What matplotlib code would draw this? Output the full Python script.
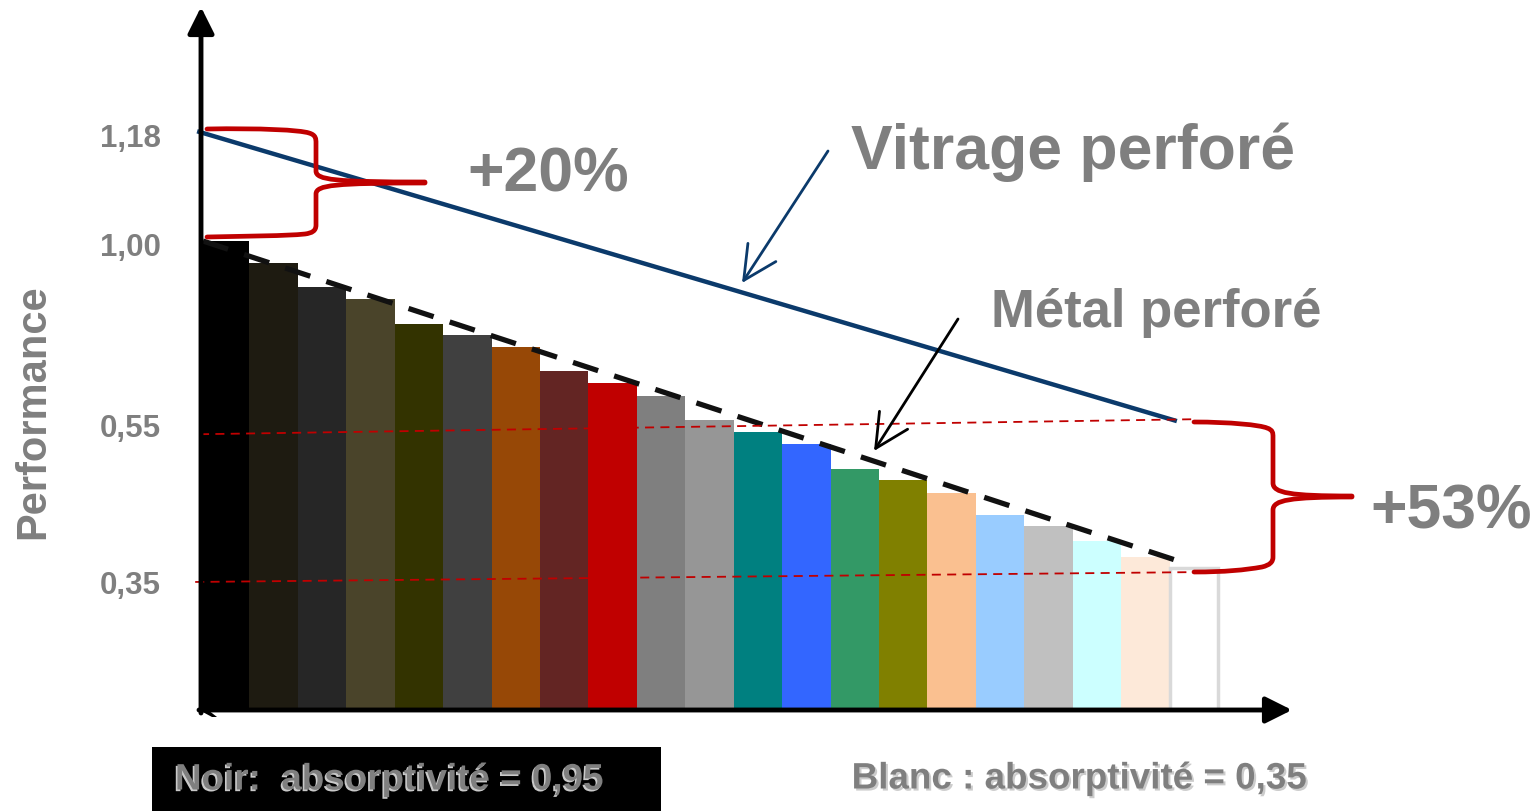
import matplotlib
matplotlib.use("Agg")
import matplotlib.pyplot as plt
from matplotlib.path import Path
from matplotlib.patches import PathPatch, Rectangle, Polygon
import matplotlib.patheffects as pe

plt.rcParams['font.family'] = ['Liberation Sans', 'DejaVu Sans']

# ---------------- data ----------------
categories = ['Noir', 'Brun foncé', 'Anthracite', 'Bronze', 'Olive foncé', 'Gris foncé',
              'Brun', 'Bordeaux', 'Rouge', 'Gris', 'Gris moyen', 'Sarcelle', 'Bleu',
              'Vert', 'Olive', 'Pêche', 'Bleu ciel', 'Argent', 'Cyan clair', 'Crème', 'Blanc']
performance = [1.000, 0.953, 0.901, 0.876, 0.824, 0.800, 0.774, 0.723, 0.697, 0.669,
               0.618, 0.593, 0.567, 0.514, 0.490, 0.463, 0.416, 0.392, 0.360, 0.326, 0.303]
bar_colors = ['#000000', '#1e1b11', '#262626', '#4a442a', '#333300', '#404040',
              '#974806', '#632523', '#c00000', '#7f7f7f', '#969696', '#008080',
              '#3366ff', '#339966', '#808000', '#fac090', '#99ccff', '#c0c0c0',
              '#ccffff', '#fde9d9', '#ffffff']

ytick_pos = [1.228, 0.994, 0.608, 0.273]
ytick_labels = ['1,18', '1,00', '0,55', '0,35']

# trend lines (start / end)
vitrage_x = [-0.58, 19.65]
vitrage_y = [1.234, 0.616]
metal_x = [-0.46, 19.67]
metal_y = [1.000, 0.318]
ref055_x = [-0.52, 20.02]
ref055_y = [0.588, 0.620]
ref035_x = [-0.62, 20.02]
ref035_y = [0.273, 0.294]

W, H = 1540, 812
GREY = '#7f7f7f'
RED = '#c00000'
NAVY = '#0b3a6b'

fig = plt.figure(figsize=(W / 100, H / 100), dpi=100)
ax = fig.add_axes([201 / W, (H - 711) / H, (1290 - 201) / W, (711 - 12) / H])
ax.set_xlim(-0.5, -0.5 + (1290 - 201) / 48.43)
ax.set_ylim(0, (711 - 12) / 469)
for s in ax.spines.values():
    s.set_visible(False)
ax.patch.set_alpha(0)

x = list(range(len(categories)))
bars = ax.bar(x, performance, width=1.0, color=bar_colors, linewidth=0, zorder=2)
bars[-1].set_edgecolor('#d9d9d9')
bars[-1].set_linewidth(2.5)

ax.plot(vitrage_x, vitrage_y, color=NAVY, lw=3.2, zorder=3, solid_capstyle='butt', clip_on=False)
ax.plot(metal_x, metal_y, color='#111111', lw=3.8, ls=(0, (5, 3.2)), zorder=4, clip_on=False)
ax.plot(ref055_x, ref055_y, color=RED, lw=1.3, ls=(0, (5, 3.5)), zorder=4, clip_on=False)
ax.plot(ref035_x, ref035_y, color=RED, lw=1.3, ls=(0, (5, 3.5)), zorder=4, clip_on=False)

ax.set_xticks([])
ax.set_yticks(ytick_pos, ytick_labels)
ax.tick_params(axis='y', length=0, pad=29, labelsize=22.5, labelcolor=GREY)
for t in ax.get_yticklabels():
    t.set_fontweight('bold')

# ---------------- overlay in pixel coordinates ----------------
ov = fig.add_axes([0, 0, 1, 1], zorder=5)
ov.set_xlim(0, W)
ov.set_ylim(H, 0)
ov.axis('off')
ov.patch.set_alpha(0)

# axes with arrows
ov.annotate('', xy=(201, 8), xytext=(201, 714),
            arrowprops=dict(arrowstyle='-|>,head_length=0.8,head_width=0.4',
                            lw=3.5, color='black', mutation_scale=20, shrinkA=0, shrinkB=0))
ov.annotate('', xy=(1292, 711), xytext=(199, 711),
            arrowprops=dict(arrowstyle='-|>,head_length=0.8,head_width=0.4',
                            lw=3.5, color='black', mutation_scale=20, shrinkA=0, shrinkB=0))
ov.add_patch(Polygon([(199, 711), (208, 711), (217, 718), (212, 718)], closed=True,
                     color='black', lw=0))

# braces
def brace(points_codes):
    verts = [p for p, c in points_codes]
    codes = [c for p, c in points_codes]
    ov.add_patch(PathPatch(Path(verts, codes), fill=False, edgecolor=RED, lw=3.4,
                           capstyle='round', joinstyle='round'))

M, L, C = Path.MOVETO, Path.LINETO, Path.CURVE4
brace([((207, 130), M),
       ((260, 129), C), ((300, 131), C), ((309, 134), C),
       ((316, 136), C), ((316, 140), C), ((316, 144), C),
       ((316, 172), L),
       ((316, 181), C), ((335, 183), C), ((425, 183), C)])
brace([((425, 184), M),
       ((335, 184), C), ((316, 186), C), ((316, 195), C),
       ((316, 226), L),
       ((316, 232), C), ((312, 234), C), ((305, 235), C),
       ((285, 237), C), ((250, 237), C), ((207, 238), C)])
brace([((1194, 423), M),
       ((1230, 423), C), ((1260, 426), C), ((1267, 429), C),
       ((1273, 431), C), ((1273, 434), C), ((1273, 438), C),
       ((1273, 484), L),
       ((1273, 494), C), ((1290, 497), C), ((1352, 497), C)])
brace([((1352, 498), M),
       ((1290, 498), C), ((1273, 501), C), ((1273, 511), C),
       ((1273, 558), L),
       ((1273, 563), C), ((1270, 566), C), ((1262, 568), C),
       ((1245, 571), C), ((1225, 573), C), ((1194, 573), C)])

# annotation arrows
ov.annotate('', xy=(742, 284), xytext=(828, 152),
            arrowprops=dict(arrowstyle='->,head_length=0.8,head_width=0.4', lw=2.0,
                            color=NAVY, mutation_scale=30, shrinkA=0, shrinkB=0))
ov.annotate('', xy=(874, 452), xytext=(958, 320),
            arrowprops=dict(arrowstyle='->,head_length=0.8,head_width=0.4', lw=2.0,
                            color='black', mutation_scale=30, shrinkA=0, shrinkB=0))

# texts
ov.text(1073, 152, 'Vitrage perforé', fontsize=45, fontweight='bold', color=GREY,
        ha='center', va='center')
ov.text(1156, 313, 'Métal perforé', fontsize=38, fontweight='bold', color=GREY,
        ha='center', va='center')
ov.text(548, 175, '+20%', fontsize=45, fontweight='bold', color=GREY,
        ha='center', va='center')
ov.text(1451, 512, '+53%', fontsize=45, fontweight='bold', color=GREY,
        ha='center', va='center')
ov.text(33, 412, 'Performance', fontsize=30, fontweight='bold', color=GREY,
        ha='center', va='center', rotation=90)

ov.add_patch(Rectangle((152, 748), 509, 64, color='black', lw=0))
ov.text(389, 781, 'Noir:  absorptivité = 0,95', fontsize=26.5, fontweight='bold', color=GREY,
        ha='center', va='center',
        path_effects=[pe.withSimplePatchShadow(offset=(-1.2, -1.2), shadow_rgbFace='#e0e0e0', alpha=0.9)])
ov.text(1079, 780, 'Blanc : absorptivité = 0,35', fontsize=26.5, fontweight='bold', color=GREY,
        ha='center', va='center',
        path_effects=[pe.withSimplePatchShadow(offset=(1.5, -1.5), shadow_rgbFace='#9a9a9a', alpha=0.5)])

fig.savefig('out.png', dpi=100)
